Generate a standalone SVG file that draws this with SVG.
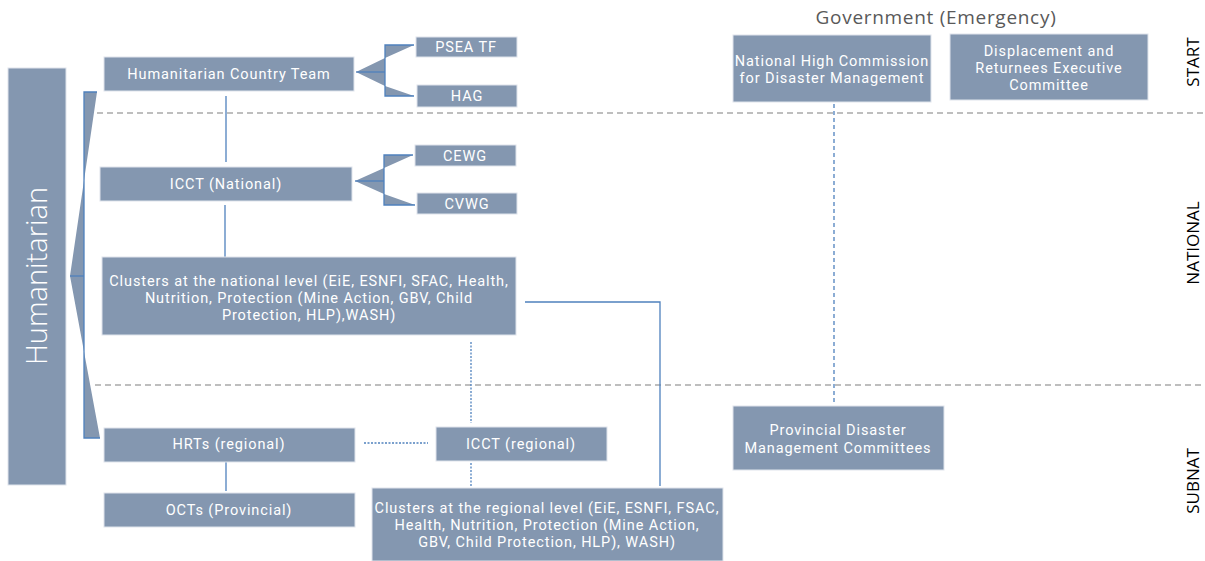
<svg xmlns="http://www.w3.org/2000/svg" width="1205" height="561" viewBox="0 0 1205 561">
<style>
.box{fill:#8497b0;stroke:#dfe4ec;stroke-width:1}
.t{font-family:Roboto,"Liberation Sans",sans-serif;font-size:14.5px;letter-spacing:0.9px;fill:#ffffff;text-anchor:middle}
.side{font-family:"Open Sans","Liberation Sans",sans-serif;font-size:17px;fill:#000000;text-anchor:middle}
.ln{stroke:#4f81bd;stroke-width:1.3;fill:none}
.dot{stroke:#4f81bd;stroke-width:1.3;fill:none;stroke-dasharray:2 1.5}
.dash{stroke:#7f7f7f;stroke-width:1.2;fill:none;stroke-dasharray:6 4}
.br{fill:#8497b0;stroke:none}
</style>
<rect width="1205" height="561" fill="#ffffff"/>
<g id="separators">
<line class="dash" x1="97" y1="113" x2="1205" y2="113"/>
<line class="dash" x1="95" y1="385" x2="1205" y2="385"/>
</g>
<g id="connectors">
<line class="ln" x1="226" y1="96" x2="226" y2="162"/>
<line class="ln" x1="225" y1="205" x2="225" y2="257"/>
<polyline class="ln" points="525,302 660,302 660,486"/>
<line class="dot" x1="471" y1="342" x2="471" y2="423"/>
<line class="dot" x1="471" y1="463" x2="471" y2="486"/>
<line class="dot" x1="364" y1="443" x2="428" y2="443"/>
<line class="dot" x1="834" y1="104" x2="834" y2="403" style="stroke-dasharray:4 3"/>
<line class="ln" x1="226" y1="462" x2="226" y2="491"/>
</g>
<g id="bracket-main">
<polygon class="br" points="84,92 97,92 70,276 100,438 84,438"/>
<polyline class="ln" points="97,92 84,92 84,438 100,438"/>
<line class="ln" x1="70" y1="276" x2="84" y2="276"/>
</g>
<g id="bracket-hct">
<polygon class="br" points="385,45 414,45 385,58 356,72 385,86 414,96 385,96"/>
<polyline class="ln" points="414,45 385,45 385,96 414,96"/>
<line class="ln" x1="356" y1="72" x2="385" y2="72"/>
</g>
<g id="bracket-icct">
<polygon class="br" points="384,155 413,155 384,168 355,181 384,194 415,205 384,205"/>
<polyline class="ln" points="413,155 384,155 384,205 415,205"/>
<line class="ln" x1="355" y1="181" x2="384" y2="181"/>
</g>
<g id="humanitarian">
<rect class="box" x="8" y="68" width="58" height="417"/>
<text transform="translate(47,276) rotate(-90)" font-family="'Open Sans','Liberation Sans',sans-serif" font-weight="300" font-size="29" fill="#ffffff" text-anchor="middle">Humanitarian</text>
</g>
<g id="hct">
<rect class="box" x="104" y="57" width="250" height="34"/>
<text class="t" x="229" y="79">Humanitarian Country Team</text>
</g>
<g id="psea">
<rect class="box" x="416" y="37" width="101" height="20"/>
<text class="t" x="466" y="52">PSEA TF</text>
</g>
<g id="hag">
<rect class="box" x="417" y="85" width="100" height="22"/>
<text class="t" x="467" y="101">HAG</text>
</g>
<g id="cewg">
<rect class="box" x="415" y="145" width="101" height="21"/>
<text class="t" x="465" y="161">CEWG</text>
</g>
<g id="cvwg">
<rect class="box" x="417" y="193" width="100" height="21"/>
<text class="t" x="467" y="209">CVWG</text>
</g>
<g id="icct-national">
<rect class="box" x="100" y="167" width="252" height="34"/>
<text class="t" x="226" y="189">ICCT (National)</text>
</g>
<g id="clusters-national">
<rect class="box" x="102" y="257" width="414" height="78"/>
<text class="t" y="286"><tspan x="309">Clusters at the national level (EiE, ESNFI, SFAC, Health,</tspan><tspan x="309" dy="17">Nutrition, Protection (Mine Action, GBV, Child</tspan><tspan x="309" dy="17">Protection, HLP),WASH)</tspan></text>
</g>
<g id="hrts">
<rect class="box" x="104" y="428" width="251" height="34"/>
<text class="t" x="229" y="449">HRTs (regional)</text>
</g>
<g id="icct-regional">
<rect class="box" x="436" y="427" width="171" height="34"/>
<text class="t" x="521" y="449">ICCT (regional)</text>
</g>
<g id="octs">
<rect class="box" x="104" y="493" width="251" height="34"/>
<text class="t" x="229" y="515">OCTs (Provincial)</text>
</g>
<g id="clusters-regional">
<rect class="box" x="372" y="488" width="351" height="73"/>
<text class="t" y="513"><tspan x="547">Clusters at the regional level (EiE, ESNFI, FSAC,</tspan><tspan x="547" dy="17">Health, Nutrition, Protection (Mine Action,</tspan><tspan x="547" dy="17">GBV, Child Protection, HLP), WASH)</tspan></text>
</g>
<g id="government-title">
<text x="936" y="24" font-family="'Open Sans','Liberation Sans',sans-serif" font-size="19" letter-spacing="0.7" fill="#595959" text-anchor="middle">Government (Emergency)</text>
</g>
<g id="nhcdm">
<rect class="box" x="733" y="35" width="198" height="67"/>
<text class="t" y="66"><tspan x="832">National High Commission</tspan><tspan x="832" dy="17">for Disaster Management</tspan></text>
</g>
<g id="drec">
<rect class="box" x="950" y="34" width="198" height="66"/>
<text class="t" y="56"><tspan x="1049">Displacement and</tspan><tspan x="1049" dy="17">Returnees Executive</tspan><tspan x="1049" dy="17">Committee</tspan></text>
</g>
<g id="pdmc">
<rect class="box" x="733" y="406" width="211" height="64"/>
<text class="t" y="435"><tspan x="838">Provincial Disaster</tspan><tspan x="838" dy="18">Management Committees</tspan></text>
</g>
<g id="levels">
<text class="side" transform="translate(1199,62) rotate(-90)">START</text>
<text class="side" transform="translate(1199,243) rotate(-90)">NATIONAL</text>
<text class="side" transform="translate(1199,481) rotate(-90)">SUBNAT</text>
</g>
</svg>
